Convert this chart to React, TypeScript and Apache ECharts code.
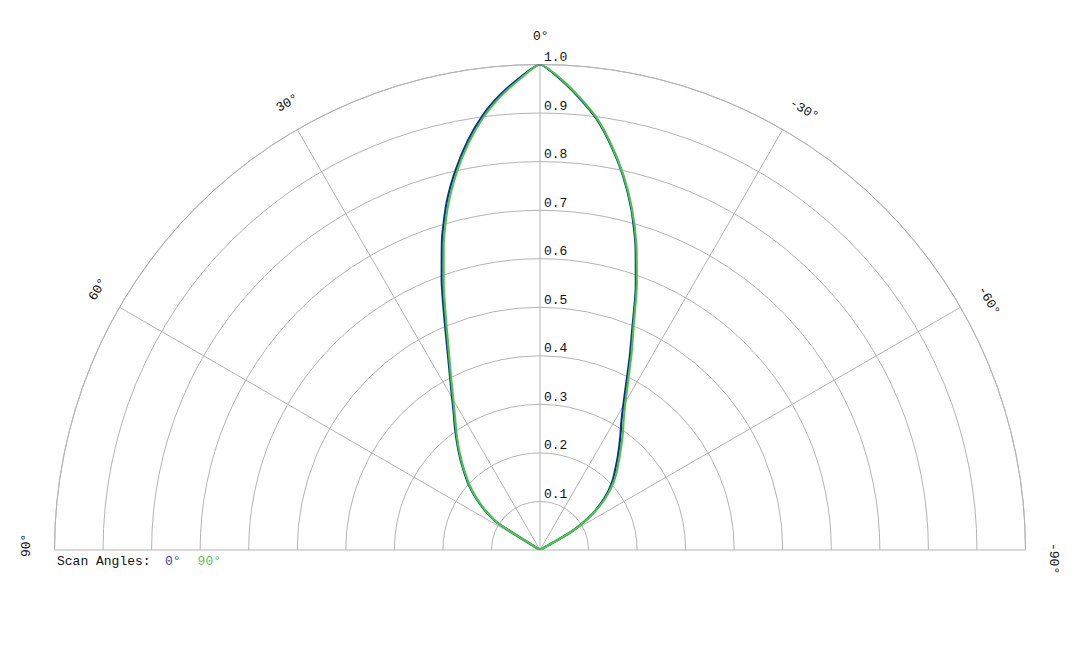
import { useEffect, useRef } from 'react'
import * as echarts from 'echarts'

// beam angle in degrees (positive = left of 0°)
const angles = [
  90, 60, 57.5, 55, 52.5, 50, 47.5, 45, 42.5, 40, 37.5, 35, 32.5, 30, 27.5, 25,
  22.5, 20, 17.5, 15, 12.5, 10, 7.5, 5, 2.5, 0, -2.5, -5, -7.5, -10, -12.5, -15,
  -17.5, -20, -22.5, -25, -27.5, -30, -32.5, -35, -37.5, -40, -42.5, -45, -47.5,
  -50, -52.5, -55, -57.5, -60, -62.5, -90,
]

// relative intensity, scan angle 0°
const scan0 = [
  0, 0, 0.104, 0.132, 0.156, 0.178, 0.199, 0.218, 0.238, 0.259, 0.281, 0.305,
  0.33, 0.362, 0.401, 0.45, 0.514, 0.592, 0.671, 0.742, 0.802, 0.856, 0.903,
  0.941, 0.973, 1.0, 0.97, 0.934, 0.895, 0.845, 0.79, 0.727, 0.655, 0.577, 0.498,
  0.437, 0.384, 0.343, 0.312, 0.289, 0.268, 0.249, 0.231, 0.215, 0.199, 0.18,
  0.159, 0.135, 0.106, 0.068, 0, 0,
]

// relative intensity, scan angle 90°
const scan90 = [
  0, 0, 0.102, 0.13, 0.153, 0.175, 0.196, 0.215, 0.235, 0.256, 0.278, 0.301,
  0.326, 0.357, 0.396, 0.443, 0.504, 0.58, 0.66, 0.733, 0.795, 0.85, 0.898,
  0.937, 0.97, 1.0, 0.972, 0.936, 0.897, 0.847, 0.792, 0.73, 0.66, 0.583, 0.505,
  0.446, 0.393, 0.352, 0.321, 0.298, 0.276, 0.256, 0.238, 0.222, 0.205, 0.185,
  0.163, 0.138, 0.108, 0.07, 0, 0,
]

const radiusTicks = [0.1, 0.2, 0.3, 0.4, 0.5, 0.6, 0.7, 0.8, 0.9, 1.0]
const angleTicks = [90, 60, 30, 0, -30, -60, -90]

const BLUE = '#15279f'
const GREEN = '#46c646'
const GRID = '#b4b4b4'
const FONT = '"Liberation Mono", "DejaVu Sans Mono", monospace'

export default function App() {
  const chartRef = useRef<HTMLDivElement>(null)

  useEffect(() => {
    if (!chartRef.current) return

    const chart = echarts.init(chartRef.current, null, { renderer: 'svg' })

    chart.setOption({
      animation: false,
      polar: { center: [540, 550], radius: 485.5 },
      angleAxis: {
        type: 'value',
        min: -90,
        max: 90,
        interval: 30,
        startAngle: 0,
        endAngle: 180,
        clockwise: false,
        axisLine: { lineStyle: { color: GRID, width: 1 } },
        axisTick: { show: false },
        axisLabel: { show: false },
        splitLine: { lineStyle: { color: GRID, width: 1 } },
      },
      radiusAxis: {
        type: 'value',
        min: 0,
        max: 1,
        interval: 0.1,
        axisLine: { show: false },
        axisTick: { show: false },
        axisLabel: { show: false },
        splitLine: { lineStyle: { color: GRID, width: 1 } },
      },
      legend: {
        left: 160,
        top: 554,
        icon: 'none',
        itemWidth: 0,
        itemHeight: 14,
        itemGap: 12,
        padding: 0,
        textStyle: { fontFamily: FONT, fontSize: 13 },
        data: [
          { name: '0°', textStyle: { color: '#2f3fb0' } },
          { name: '90°', textStyle: { color: '#5ac85a' } },
        ],
      },
      series: [
        {
          name: '0°',
          type: 'line',
          coordinateSystem: 'polar',
          showSymbol: false,
          smooth: 0.2,
          data: angles.map((a, i) => [scan0[i], a]),
          lineStyle: { color: BLUE, width: 2.2 },
          itemStyle: { color: BLUE },
        },
        {
          name: '90°',
          type: 'line',
          coordinateSystem: 'polar',
          showSymbol: false,
          smooth: 0.2,
          data: angles.map((a, i) => [scan90[i], a]),
          lineStyle: { color: GREEN, width: 2.2 },
          itemStyle: { color: GREEN },
        },
      ],
    })

    const toPx = (r: number, a: number) =>
      chart.convertToPixel({ seriesIndex: 0 }, [r, a]) as number[]

    // labels start a little before the spoke and run along the arc
    const angleLabels = angleTicks.map((a) => {
      const p = toPx(1.057, a)
      return {
        type: 'text',
        x: p[0],
        y: p[1],
        rotation: (a * Math.PI) / 180,
        style: {
          text: `${a}°`,
          x: -7,
          y: 0,
          font: `13px ${FONT}`,
          fill: '#111',
          textAlign: 'left',
          textVerticalAlign: 'middle',
        },
      }
    })

    const radiusLabels = radiusTicks.map((v) => {
      const p = toPx(v, 0)
      return {
        type: 'text',
        x: p[0] + 4,
        y: p[1] - 7,
        style: {
          text: v.toFixed(1),
          font: `13px ${FONT}`,
          fill: '#111',
          textAlign: 'left',
          textVerticalAlign: 'middle',
        },
      }
    })

    chart.setOption({
      graphic: [
        ...angleLabels,
        ...radiusLabels,
        {
          type: 'text',
          x: 57,
          y: 561,
          style: {
            text: 'Scan Angles:',
            font: `13px ${FONT}`,
            fill: '#111',
            textAlign: 'left',
            textVerticalAlign: 'middle',
          },
        },
      ],
    })

    return () => {
      chart.dispose()
    }
  }, [])

  return (
    <div
      ref={chartRef}
      style={{ position: 'absolute', left: 0, top: 0, width: '1080px', height: '648px' }}
    />
  )
}
